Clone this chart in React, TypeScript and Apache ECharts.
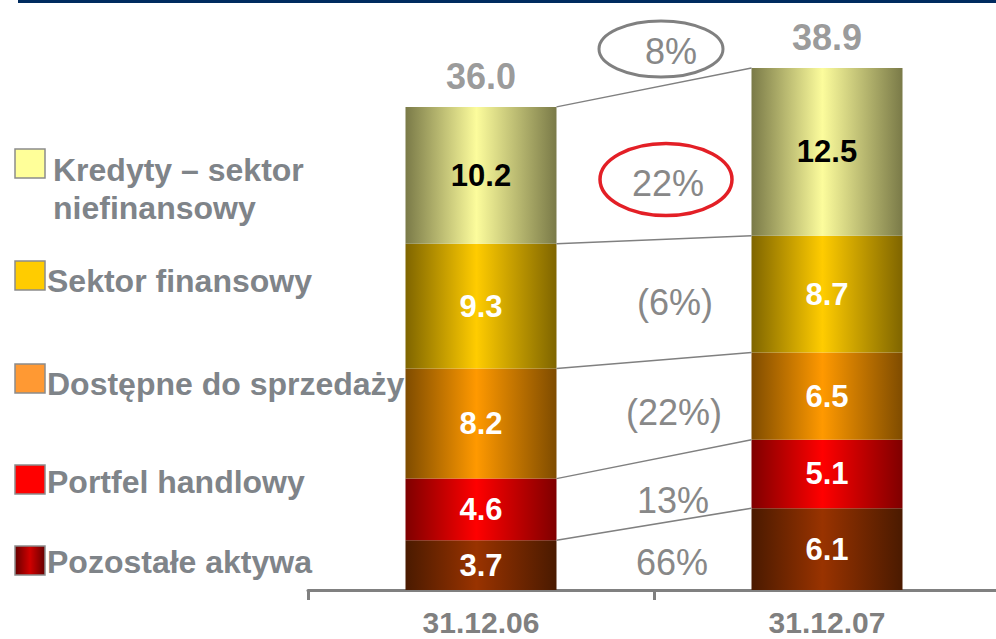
import React, { useEffect, useRef } from "react";
import * as echarts from "echarts";

const categories = ["31.12.06", "31.12.07"];
const seriesNames = [
  "Pozostałe aktywa",
  "Portfel handlowy",
  "Dostępne do sprzedaży",
  "Sektor finansowy",
  "Kredyty – sektor niefinansowy",
];
const pozostale = [3.7, 6.1];
const portfel = [4.6, 5.1];
const dostepne = [8.2, 6.5];
const sektorFin = [9.3, 8.7];
const kredyty = [10.2, 12.5];
const totals = [36.0, 38.9];
const changeLabels = ["66%", "13%", "(22%)", "(6%)", "22%"];
const totalChangeLabel = "8%";

const FONT = "'Liberation Sans', Arial, sans-serif";
const GRAY = "#808080";
const TEXT_GRAY = "#7f8489";
const BAR_WIDTH = 151;

const edgeColors = ["#4a1a00", "#7f0000", "#7f4c00", "#7f6500", "#7a7a48"];
const centerColors = ["#993300", "#ff0000", "#ff9900", "#ffcc00", "#fcfc9c"];
const labelColors = ["#ffffff", "#ffffff", "#ffffff", "#ffffff", "#000000"];

// legend layout (pixel positions)
const legendSwatch = [
  { y: 546, fill: "grad" },
  { y: 465, fill: "#ff0000" },
  { y: 364, fill: "#ff9933" },
  { y: 261, fill: "#ffcc00" },
  { y: 149, fill: "#ffff99" },
];
const legendText = [
  { x: 47, y: 562, text: "Pozostałe aktywa" },
  { x: 47, y: 482, text: "Portfel handlowy" },
  { x: 47, y: 384, text: "Dostępne do sprzedaży" },
  { x: 47, y: 281, text: "Sektor finansowy" },
  { x: 53, y: 189, text: "Kredyty – sektor\nniefinansowy" },
];
const changePos = [
  [672, 562],
  [673, 500],
  [674, 412],
  [675, 302],
  [668, 183],
];
const totalChangePos = [671, 51];

export default function App() {
  const ref = useRef<HTMLDivElement>(null);

  useEffect(() => {
    if (!ref.current) return;
    const chart = echarts.init(ref.current, undefined, { renderer: "svg" });
    const values = [pozostale, portfel, dostepne, sektorFin, kredyty];

    const grad = (edge: string, center: string) =>
      new echarts.graphic.LinearGradient(0, 0, 1, 0, [
        { offset: 0, color: edge },
        { offset: 0.47, color: center },
        { offset: 1, color: edge },
      ]);

    const barSeries = values.map((v, i) => ({
      name: seriesNames[i],
      type: "bar",
      stack: "total",
      barWidth: BAR_WIDTH,
      data: v,
      itemStyle: { color: grad(edgeColors[i], centerColors[i]) },
      label: {
        show: true,
        position: "inside",
        color: labelColors[i],
        fontSize: 31,
        fontWeight: "bold",
        fontFamily: FONT,
        formatter: (p: any) => p.value.toFixed(1),
      },
    }));

    chart.setOption({
      animation: false,
      grid: {
        left: 308,
        width: 692,
        top: 53.2,
        bottom: 49,
        containLabel: false,
        outerBoundsMode: "none",
      },
      xAxis: {
        type: "category",
        data: categories,
        axisLine: { lineStyle: { color: GRAY, width: 3 } },
        axisTick: { show: true, length: 10, lineStyle: { color: GRAY, width: 3 } },
        axisLabel: {
          color: GRAY,
          fontSize: 30,
          fontWeight: "bold",
          fontFamily: FONT,
          margin: 17,
        },
      },
      yAxis: { type: "value", min: 0, max: 40, show: false, splitLine: { show: false } },
      series: [
        ...barSeries,
        {
          type: "scatter",
          data: totals,
          symbolSize: 0,
          label: {
            show: true,
            position: "top",
            distance: 12,
            color: GRAY,
            fontSize: 36,
            fontWeight: "bold",
            fontFamily: FONT,
            formatter: (p: any) => p.value.toFixed(1),
          },
        },
      ],
    });

    // connecting lines between stack boundaries
    const cum = [0, 1].map((c) => {
      let s = 0;
      return values.map((v) => (s += v[c]));
    });
    const lines: any[] = [];
    for (let k = 0; k < values.length; k++) {
      const p1 = chart.convertToPixel({ xAxisIndex: 0, yAxisIndex: 0 }, [categories[0], cum[0][k]]) as number[];
      const p2 = chart.convertToPixel({ xAxisIndex: 0, yAxisIndex: 0 }, [categories[1], cum[1][k]]) as number[];
      lines.push({
        type: "line",
        shape: { x1: p1[0] + BAR_WIDTH / 2, y1: p1[1], x2: p2[0] - BAR_WIDTH / 2, y2: p2[1] },
        style: { stroke: GRAY, lineWidth: 1.5 },
        z: 10,
      });
    }

    const legend: any[] = [];
    legendSwatch.forEach((s) => {
      legend.push({
        type: "rect",
        shape: { x: 15, y: s.y, width: 30, height: 29 },
        style: {
          fill:
            s.fill === "grad"
              ? new echarts.graphic.LinearGradient(0, 0, 1, 0, [
                  { offset: 0, color: "#660000" },
                  { offset: 0.5, color: "#d00000" },
                  { offset: 1, color: "#660000" },
                ])
              : s.fill,
          stroke: "#8c8c8c",
          lineWidth: 1.5,
        },
      });
    });
    legendText.forEach((t) => {
      legend.push({
        type: "text",
        x: t.x,
        y: t.y,
        style: {
          text: t.text,
          fill: TEXT_GRAY,
          fontSize: 32,
          fontWeight: "bold",
          fontFamily: FONT,
          lineHeight: 38,
          align: "left",
          verticalAlign: "middle",
        },
      });
    });

    const annotations: any[] = changeLabels.map((t, i) => ({
      type: "text",
      x: changePos[i][0],
      y: changePos[i][1],
      style: {
        text: t,
        fill: "#888888",
        fontSize: 36,
        fontFamily: FONT,
        align: "center",
        verticalAlign: "middle",
      },
    }));
    annotations.push({
      type: "text",
      x: totalChangePos[0],
      y: totalChangePos[1],
      style: {
        text: totalChangeLabel,
        fill: "#888888",
        fontSize: 36,
        fontFamily: FONT,
        align: "center",
        verticalAlign: "middle",
      },
    });
    annotations.push({
      type: "ellipse",
      shape: { cx: 661, cy: 49, rx: 62, ry: 28 },
      style: { fill: "none", stroke: GRAY, lineWidth: 3 },
    });
    annotations.push({
      type: "ellipse",
      shape: { cx: 666, cy: 179.5, rx: 66, ry: 36 },
      style: { fill: "none", stroke: "#e31f26", lineWidth: 3.5 },
    });
    annotations.push({
      type: "rect",
      shape: { x: 18, y: 0, width: 978, height: 3 },
      style: { fill: "#002b5f" },
    });

    chart.setOption({ graphic: { elements: [...legend, ...annotations, ...lines] } });

    return () => chart.dispose();
  }, []);

  return (
    <div
      ref={ref}
      style={{ position: "fixed", left: 0, top: 0, width: 996, height: 639, background: "#fff" }}
    />
  );
}
